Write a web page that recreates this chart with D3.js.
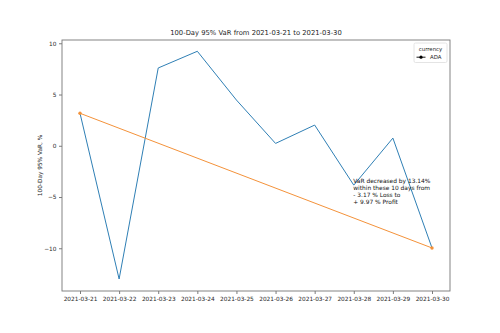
<!DOCTYPE html>
<html>
<head>
<meta charset="utf-8">
<script src="https://cdn.jsdelivr.net/npm/d3@7"></script>
<style>
  body { margin: 0; background: #fff; }
  text { font-family: "DejaVu Sans", sans-serif; fill: #262626; }
</style>
</head>
<body>
<div id="chart"></div>
<script>
// data
const dates = ["2021-03-21", "2021-03-22", "2021-03-23", "2021-03-24", "2021-03-25",
               "2021-03-26", "2021-03-27", "2021-03-28", "2021-03-29", "2021-03-30"];
const varValues = [3.17, -13.0, 7.59, 9.22, 4.46, 0.23, 2.02, -3.84, 0.75, -9.97];
const trendDates = ["2021-03-21", "2021-03-30"];
const trendValues = [3.17, -9.97];
const yTicks = [-10, -5, 0, 5, 10];
const legendTitle = "currency";
const legendLabel = "ADA";
const annotationLines = ["VaR decreased by 13.14%", "within these 10 days from",
                         "- 3.17 % Loss to", "+ 9.97 % Profit"];

const width = 500, height = 333;
const margin = {left: 62, right: 50, top: 40, bottom: 42};
const innerW = width - margin.left - margin.right;
const innerH = height - margin.top - margin.bottom;

const svg = d3.select("#chart").append("svg")
    .attr("width", width)
    .attr("height", height);

const g = svg.append("g")
    .attr("transform", `translate(${margin.left},${margin.top})`);

const parse = d3.timeParse("%Y-%m-%d");
const x = d3.scaleTime()
    .domain([parse(dates[0]), parse(dates[dates.length - 1])])
    .range([18, innerW - 18]);
const y = d3.scaleLinear()
    .domain([-14.17, 10.32])
    .range([innerH, 0]);

// axes
const xAxis = d3.axisBottom(x)
    .tickValues(dates.map(parse))
    .tickFormat(d3.timeFormat("%Y-%m-%d"))
    .tickSize(3).tickPadding(2.5);
const gx = g.append("g")
    .attr("transform", `translate(0,${innerH})`)
    .call(xAxis);
gx.selectAll("text").style("font-size", "5.8px");

const yAxis = d3.axisLeft(y)
    .tickValues(yTicks)
    .tickFormat(d => d < 0 ? "\u2212" + Math.abs(d) : d)
    .tickSize(3).tickPadding(2.5);
const gy = g.append("g").call(yAxis);
gy.selectAll("text").style("font-size", "5.8px");

[gx, gy].forEach(a => {
    a.select(".domain").remove();
    a.selectAll("line").attr("stroke", "#444").attr("stroke-width", 0.7);
});

// frame
g.append("rect")
    .attr("width", innerW).attr("height", innerH)
    .attr("fill", "none").attr("stroke", "#777").attr("stroke-width", 0.9);

const line = d3.line()
    .x(d => x(parse(d[0])))
    .y(d => y(d[1]));

// VaR line
g.append("path")
    .datum(dates.map((d, i) => [d, varValues[i]]))
    .attr("d", line)
    .attr("fill", "none")
    .attr("stroke", "#2f7fb5")
    .attr("stroke-width", 1);

// trend
const trend = trendDates.map((d, i) => [d, trendValues[i]]);
g.append("path")
    .datum(trend)
    .attr("d", line)
    .attr("fill", "none")
    .attr("stroke", "#f4923a")
    .attr("stroke-width", 1);
g.selectAll(".tdot")
    .data(trend)
    .enter().append("circle")
    .attr("cx", d => x(parse(d[0])))
    .attr("cy", d => y(d[1]))
    .attr("r", 1.7)
    .attr("fill", "#f4923a");

// annotation
const annX = x(parse("2021-03-28")) - 0.5;
const ann = g.append("text")
    .attr("x", annX)
    .attr("y", y(-3.84) - 2.5)
    .style("font-size", "5.9px")
    .style("fill", "#111");
annotationLines.forEach((t, i) => {
    ann.append("tspan")
        .attr("x", annX)
        .attr("dy", i === 0 ? 0 : 7)
        .text(t);
});

// title
svg.append("text")
    .attr("x", margin.left + innerW / 2)
    .attr("y", margin.top - 5.5)
    .attr("text-anchor", "middle")
    .style("font-size", "6.8px")
    .text("100-Day 95% VaR from 2021-03-21 to 2021-03-30");

// y label
svg.append("text")
    .attr("transform", `translate(42,${margin.top + innerH / 2}) rotate(-90)`)
    .attr("text-anchor", "middle")
    .style("font-size", "5.8px")
    .text("100-Day 95% VaR, %");

// legend
const lg = g.append("g").attr("transform", `translate(${innerW - 36},3)`);
lg.append("rect")
    .attr("width", 33).attr("height", 19.5).attr("rx", 1.5)
    .attr("fill", "#fff").attr("stroke", "#ddd").attr("stroke-width", 0.8);
lg.append("text")
    .attr("x", 16.5).attr("y", 7.5)
    .attr("text-anchor", "middle")
    .style("font-size", "5.4px")
    .text(legendTitle);
lg.append("line")
    .attr("x1", 2.5).attr("x2", 11.5).attr("y1", 14.2).attr("y2", 14.2)
    .attr("stroke", "#000").attr("stroke-width", 0.9);
lg.append("circle")
    .attr("cx", 7).attr("cy", 14.2).attr("r", 1.6).attr("fill", "#000");
lg.append("text")
    .attr("x", 16).attr("y", 16.2)
    .style("font-size", "5.4px")
    .text(legendLabel);
</script>
</body>
</html>
